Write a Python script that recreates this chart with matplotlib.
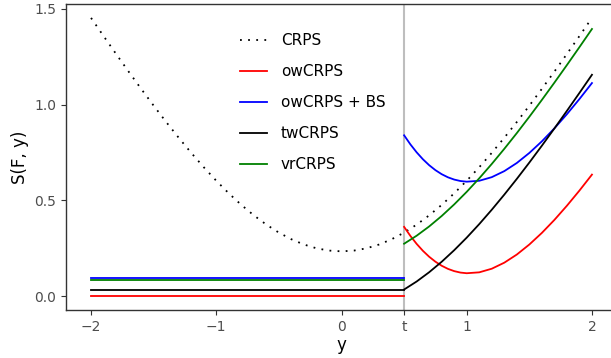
import numpy as np
import matplotlib.pyplot as plt

# threshold t and x grids
t = 0.5
y_full = np.round(np.arange(-2.0, 2.0001, 0.1), 1)
y_low = [-2.0, t]
y_high = np.round(np.arange(0.5, 2.0001, 0.1), 1)
y_high_ow = [0.5, 0.55, 0.6, 0.65, 0.7, 0.75, 0.8, 0.85, 0.9, 0.95, 1.0,
             1.1, 1.2, 1.3, 1.4, 1.5, 1.6, 1.7, 1.8, 1.9, 2.0]

# CRPS over the whole range
crps = [1.4527, 1.3579, 1.2644, 1.1724, 1.0823, 0.9944, 0.9091, 0.8269, 0.7480, 0.6730,
        0.6024, 0.5367, 0.4762, 0.4216, 0.3732, 0.3314, 0.2967, 0.2693, 0.2496, 0.2377,
        0.2337,
        0.2377, 0.2496, 0.2693, 0.2967, 0.3314, 0.3732, 0.4216, 0.4762, 0.5367, 0.6024,
        0.6730, 0.7480, 0.8269, 0.9091, 0.9944, 1.0823, 1.1724, 1.2644, 1.3579, 1.4527]

# constant values for y <= t
ow_low = 0.0
owbs_low = 0.0952
tw_low = 0.0344
vr_low = 0.0820

# values for y > t
ow_high = [0.3615, 0.3143, 0.2727, 0.2365, 0.2055, 0.1796, 0.1585, 0.1422, 0.1304, 0.1228,
           0.1194, 0.1241, 0.1430, 0.1745, 0.2170, 0.2694, 0.3300, 0.3978, 0.4719, 0.5510,
           0.6344]
owbs_high = [0.8396, 0.7924, 0.7508, 0.7146, 0.6836, 0.6577, 0.6366, 0.6203, 0.6085, 0.6009,
             0.5975, 0.6022, 0.6211, 0.6526, 0.6951, 0.7475, 0.8081, 0.8759, 0.9500, 1.0291,
             1.1125]
tw_high = [0.0344, 0.0762, 0.1246, 0.1792, 0.2397, 0.3054, 0.3760, 0.4510, 0.5299, 0.6121,
           0.6974, 0.7853, 0.8754, 0.9674, 1.0609, 1.1557]
vr_high = [0.2735, 0.3153, 0.3637, 0.4183, 0.4788, 0.5445, 0.6151, 0.6901, 0.7690, 0.8512,
           0.9365, 1.0244, 1.1145, 1.2065, 1.3000, 1.3948]

x_ticks = [-2, -1, 0, t, 1, 2]
x_labels = ['\u22122', '\u22121', '0', 't', '1', '2']
y_ticks = [0.0, 0.5, 1.0, 1.5]

fig = plt.figure(figsize=(6.11, 3.58), dpi=100)
ax = fig.add_axes([66 / 611, 48 / 358, 551 / 611, 306 / 358])

lw = 1.3
ax.axvline(t, color='#BEBEBE', lw=1.5, zorder=1)
ax.plot(y_full, crps, color='black', ls=(0, (1, 3.5)), lw=1.3, label='CRPS')
ax.plot(y_low, [ow_low] * 2, color='red', lw=lw, label='owCRPS')
ax.plot(y_high_ow, ow_high, color='red', lw=lw)
ax.plot(y_low, [owbs_low] * 2, color='blue', lw=lw, label='owCRPS + BS')
ax.plot(y_high_ow, owbs_high, color='blue', lw=lw)
ax.plot(y_low, [tw_low] * 2, color='black', lw=lw, label='twCRPS')
ax.plot(y_high, tw_high, color='black', lw=lw)
ax.plot(y_low, [vr_low] * 2, color='green', lw=lw, label='vrCRPS')
ax.plot(y_high, vr_high, color='green', lw=lw)

ax.set_xlim(-2.2, 2.2)
ax.set_ylim(-0.0726, 1.5253)
ax.set_xticks(x_ticks)
ax.set_xticklabels(x_labels)
ax.set_yticks(y_ticks)
ax.set_yticklabels(['0.0', '0.5', '1.0', '1.5'])
ax.tick_params(colors='#333333', labelcolor='#4D4D4D', labelsize=10, length=3.5, width=0.8)
for s in ax.spines.values():
    s.set_color('#333333')
    s.set_linewidth(1.0)
ax.set_xlabel('y', fontsize=12, labelpad=2)
ax.set_ylabel('S(F, y)', fontsize=12, labelpad=4)

ax.legend(loc='upper left', bbox_to_anchor=(0.29, 0.95), frameon=False, fontsize=11,
          handlelength=1.8, handletextpad=0.9, labelspacing=1.05)

fig.savefig('out.png', dpi=100)
